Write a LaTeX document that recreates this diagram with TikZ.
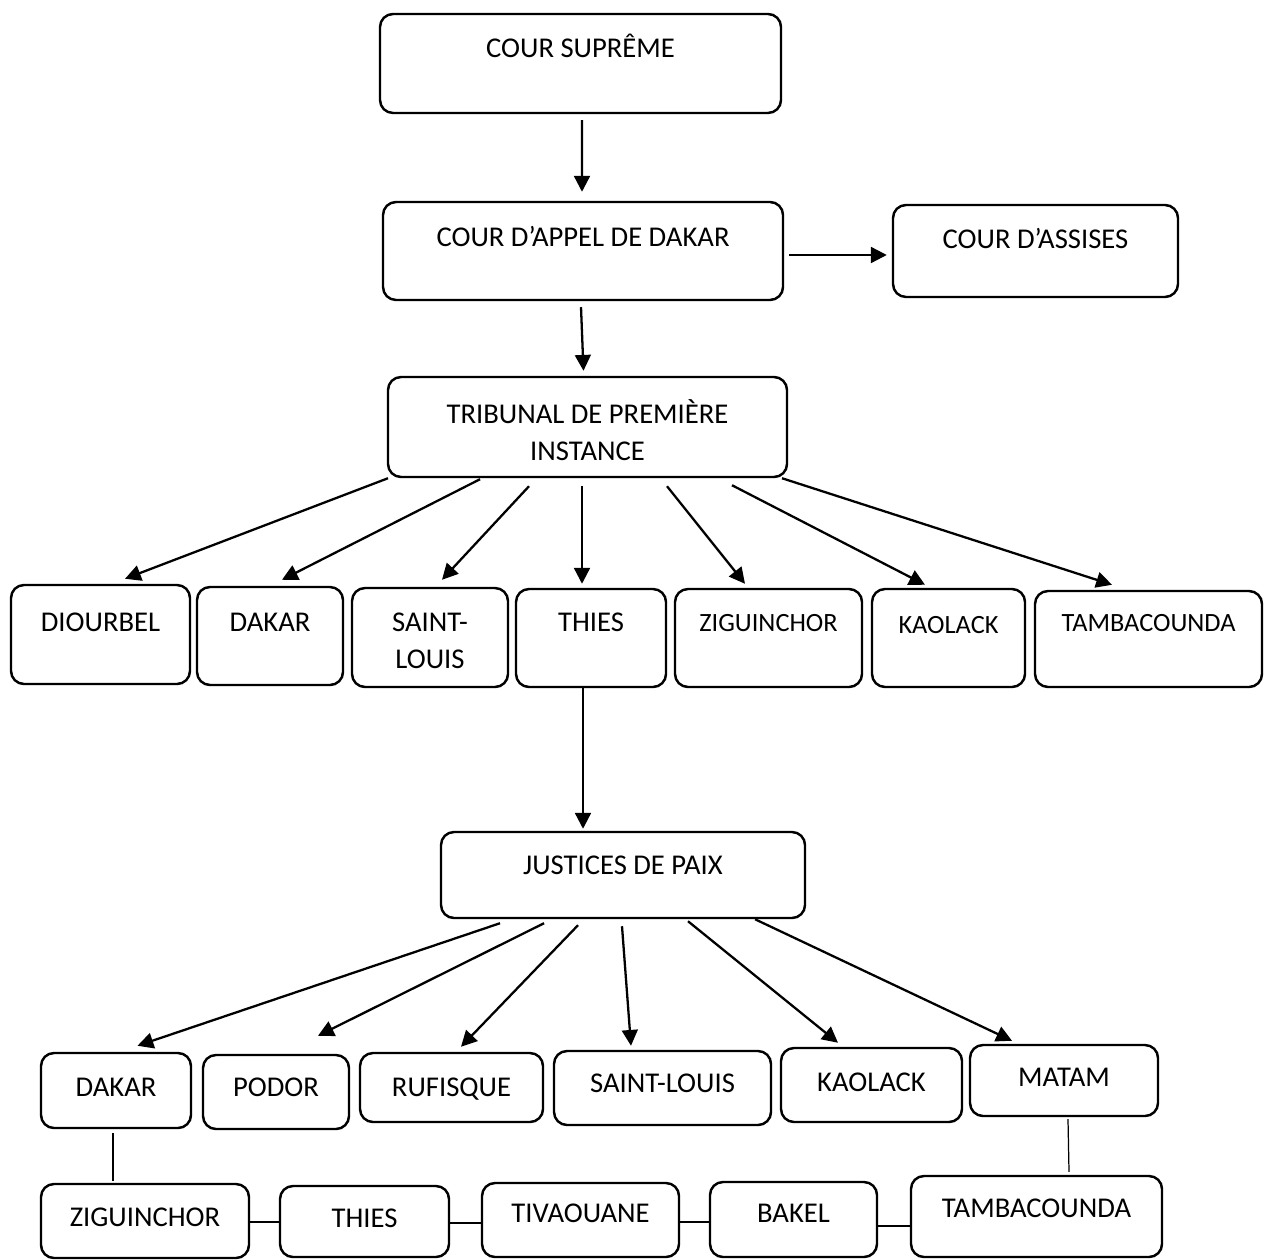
\documentclass[tikz,border=0pt]{standalone}
\usepackage{fontspec}
\setmainfont{Carlito}
\usetikzlibrary{arrows.meta,calc,fit}

\newcommand{\lab}{\fontsize{16.3}{21}\selectfont}
\newcommand{\labsm}{\fontsize{15}{19}\selectfont}

\tikzset{
  box/.style={draw, line width=1.4pt, rounded corners=0.26cm, inner sep=0pt},
  lbl/.style={font=\lab, align=center, inner sep=0pt, anchor=base},
  lblsm/.style={lbl, font=\labsm},
  arr/.style={line width=1.3pt, -{Triangle[length=9pt,width=9pt]}},
  link/.style={line width=0.7pt}
}

\begin{document}
\begin{tikzpicture}[x=0.02cm, y=-0.02cm]
    \useasboundingbox (0,0) rectangle (1264,1260);

    % Top courts
    \node[box, fit={(380,14) (781,113)}] (supreme) {};
    \node[lbl] (supreme-t) at (580.5,58) {COUR SUPRÊME};
    \node[box, fit={(383,202) (783,300)}] (appel) {};
    \node[lbl] (appel-t) at (583,247) {COUR D’APPEL DE DAKAR};
    \node[box, fit={(893,205) (1178,297)}] (assises) {};
    \node[lbl] (assises-t) at (1035.5,249) {COUR D’ASSISES};
    \node[box, fit={(388,377) (787,477)}] (tpi) {};
    \node[lbl] (tpi-t) at (587.5,460) {TRIBUNAL DE PREMIÈRE\\INSTANCE};

    % Tribunaux de premiere instance
    \node[box, fit={(11,585) (190,684)}] (diourbel) {};
    \node[lbl] (diourbel-t) at (diourbel.north |- 0,631) {DIOURBEL};
    \node[box, fit={(197,587) (343,685)}] (dakarA) {};
    \node[lbl] (dakarA-t) at (dakarA.north |- 0,631) {DAKAR};
    \node[box, fit={(352,588) (508,687)}] (stlouisA) {};
    \node[lbl] (stlouisA-t) at (stlouisA.north |- 0,668) {SAINT-\\LOUIS};
    \node[box, fit={(516,589) (666,687)}] (thiesA) {};
    \node[lbl] (thiesA-t) at (thiesA.north |- 0,631) {THIES};
    \node[box, fit={(675,589) (862,687)}] (ziguinchorA) {};
    \node[lblsm] (ziguinchorA-t) at (ziguinchorA.north |- 0,631) {ZIGUINCHOR};
    \node[box, fit={(872,589) (1025,687)}] (kaolackA) {};
    \node[lblsm] (kaolackA-t) at (kaolackA.north |- 0,633) {KAOLACK};
    \node[box, fit={(1035,591) (1262,687)}] (tambaA) {};
    \node[lblsm] (tambaA-t) at (tambaA.north |- 0,631) {TAMBACOUNDA};

    % Justices de paix
    \node[box, fit={(441,832) (805,918)}] (jdp) {};
    \node[lbl] (jdp-t) at (jdp.north |- 0,874) {JUSTICES DE PAIX};

    \node[box, fit={(41,1053) (191,1128)}] (dakarB) {};
    \node[lbl] (dakarB-t) at (dakarB.north |- 0,1096) {DAKAR};
    \node[box, fit={(203,1055) (349,1129)}] (podor) {};
    \node[lbl] (podor-t) at (podor.north |- 0,1096) {PODOR};
    \node[box, fit={(360,1053) (543,1122)}] (rufisque) {};
    \node[lbl] (rufisque-t) at (rufisque.north |- 0,1096) {RUFISQUE};
    \node[box, fit={(554,1051) (771,1125)}] (stlouisB) {};
    \node[lbl] (stlouisB-t) at (stlouisB.north |- 0,1092) {SAINT-LOUIS};
    \node[box, fit={(781,1048) (962,1122)}] (kaolackB) {};
    \node[lbl] (kaolackB-t) at (kaolackB.north |- 0,1091) {KAOLACK};
    \node[box, fit={(970,1045) (1158,1116)}] (matam) {};
    \node[lbl] (matam-t) at (matam.north |- 0,1086) {MATAM};

    \node[box, fit={(41,1184) (249,1258)}] (ziguinchorB) {};
    \node[lbl] (ziguinchorB-t) at (ziguinchorB.north |- 0,1226) {ZIGUINCHOR};
    \node[box, fit={(280,1186) (449,1257)}] (thiesB) {};
    \node[lbl] (thiesB-t) at (thiesB.north |- 0,1227) {THIES};
    \node[box, fit={(482,1183) (679,1257)}] (tivaouane) {};
    \node[lbl] (tivaouane-t) at (tivaouane.north |- 0,1222) {TIVAOUANE};
    \node[box, fit={(710,1182) (877,1257)}] (bakel) {};
    \node[lbl] (bakel-t) at (bakel.north |- 0,1222) {BAKEL};
    \node[box, fit={(911,1176) (1162,1257)}] (tambaB) {};
    \node[lbl] (tambaB-t) at (tambaB.north |- 0,1217) {TAMBACOUNDA};

    % Arrows down the hierarchy
    \draw[arr] ($(supreme.south)+(1.5,6)$) -- ($(appel.north)+(-1,-9)$);
    \draw[arr] ($(appel.east)+(5,4)$) -- ($(assises.west)+(-5,4)$);
    \draw[arr] ($(appel.south)+(-2,6)$) -- ($(tpi.north)+(-4,-5)$);

    \draw[arr] ($(tpi.south)+(-199.5,0)$) -- ($(diourbel.north)+(24.5,-5)$);
    \draw[arr] ($(tpi.south)+(-107.5,1)$) -- ($(dakarA.north)+(12,-6)$);
    \draw[arr] ($(tpi.south)+(-58.5,8)$) -- ($(stlouisA.north)+(12,-7)$);
    \draw[arr] ($(tpi.south)+(-5.5,8)$) -- ($(thiesA.north)+(-9,-4)$);
    \draw[arr] ($(tpi.south)+(79.5,8)$) -- ($(ziguinchorA.north)+(-23.5,-4)$);
    \draw[arr] ($(tpi.south)+(144.5,7)$) -- ($(kaolackA.north)+(-23.5,-3)$);
    \draw[arr] ($(tpi.south)+(194.5,0)$) -- ($(tambaA.north)+(-36.5,-5)$);

    \draw[arr] ($(thiesA.south)+(-8,0)$) -- ($(jdp.north)+(-40,-2)$);

    \draw[arr] ($(jdp.south)+(-123,4)$) -- ($(dakarB.north)+(21.5,-6)$);
    \draw[arr] ($(jdp.south)+(-79,4)$) -- ($(podor.north)+(42,-18)$);
    \draw[arr] ($(jdp.south)+(-45,6)$) -- ($(rufisque.north)+(9.5,-5)$);
    \draw[arr] ($(jdp.south)+(-1,7)$) -- ($(stlouisB.north)+(-31.5,-4)$);
    \draw[arr] ($(jdp.south)+(65,2)$) -- ($(kaolackB.north)+(-33.5,-4)$);
    \draw[arr] ($(jdp.south)+(132,0)$) -- ($(matam.north)+(-52,-3)$);

    % Thin links on the last row
    \draw[link] ($(dakarB.south)+(-3,4)$) -- ($(ziguinchorB.north)+(-32,-2)$);
    \draw[link] ($(matam.south)+(4,2)$) -- ($(tambaB.north)+(32.5,-3)$);
    \draw[link] ($(ziguinchorB.east)+(0,1)$) -- ($(thiesB.west)+(0,0.5)$);
    \draw[link] ($(thiesB.east)+(0,1.5)$) -- ($(tivaouane.west)+(0,3)$);
    \draw[link] ($(tivaouane.east)+(0,2)$) -- ($(bakel.west)+(0,2.5)$);
    \draw[link] ($(bakel.east)+(0,6.5)$) -- ($(tambaB.west)+(0,9.5)$);
\end{tikzpicture}
\end{document}
